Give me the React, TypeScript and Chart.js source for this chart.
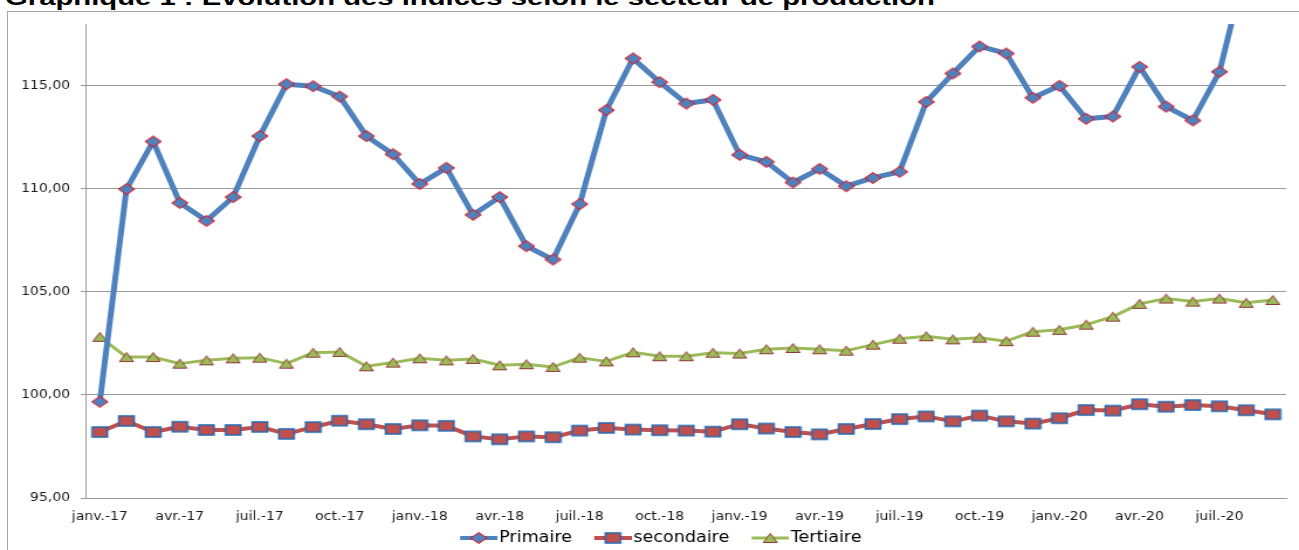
import React, { useEffect, useRef } from 'react';
import { Chart, registerables } from 'chart.js';

Chart.register(...registerables);

const categories = [
  'janv.-17', 'févr.-17', 'mars-17', 'avr.-17', 'mai-17', 'juin-17', 'juil.-17', 'août-17', 'sept.-17', 'oct.-17', 'nov.-17', 'déc.-17',
  'janv.-18', 'févr.-18', 'mars-18', 'avr.-18', 'mai-18', 'juin-18', 'juil.-18', 'août-18', 'sept.-18', 'oct.-18', 'nov.-18', 'déc.-18',
  'janv.-19', 'févr.-19', 'mars-19', 'avr.-19', 'mai-19', 'juin-19', 'juil.-19', 'août-19', 'sept.-19', 'oct.-19', 'nov.-19', 'déc.-19',
  'janv.-20', 'févr.-20', 'mars-20', 'avr.-20', 'mai-20', 'juin-20', 'juil.-20', 'août-20', 'sept.-20',
];

const primaire = [
  99.67, 109.99, 112.3, 109.32, 108.45, 109.6, 112.56, 115.08, 114.98, 114.48, 112.56, 111.68,
  110.24, 111.02, 108.74, 109.6, 107.22, 106.57, 109.26, 113.82, 116.33, 115.18, 114.14, 114.32,
  111.65, 111.31, 110.31, 110.97, 110.13, 110.53, 110.83, 114.22, 115.6, 116.91, 116.57, 114.42,
  115.0, 113.4, 113.51, 115.92, 113.99, 113.32, 115.68, 120.9, 121.6,
];

const secondaire = [
  98.2, 98.74, 98.2, 98.46, 98.3, 98.3, 98.45, 98.11, 98.44, 98.75, 98.58, 98.35,
  98.53, 98.5, 97.99, 97.85, 97.99, 97.95, 98.27, 98.4, 98.32, 98.29, 98.27, 98.22,
  98.58, 98.37, 98.2, 98.09, 98.35, 98.59, 98.83, 98.96, 98.72, 99.0, 98.72, 98.61,
  98.87, 99.27, 99.24, 99.55, 99.43, 99.51, 99.45, 99.26, 99.06,
];

const tertiaire = [
  102.82, 101.84, 101.84, 101.52, 101.68, 101.78, 101.81, 101.52, 102.05, 102.09, 101.39, 101.57,
  101.78, 101.68, 101.75, 101.44, 101.49, 101.36, 101.81, 101.63, 102.07, 101.88, 101.88, 102.05,
  102.01, 102.22, 102.28, 102.22, 102.15, 102.44, 102.73, 102.85, 102.7, 102.78, 102.61, 103.07,
  103.16, 103.41, 103.8, 104.42, 104.68, 104.53, 104.68, 104.47, 104.61,
];

const seriesNames = ['Primaire', 'secondaire', 'Tertiaire'];
const seriesColors = ['#4F81BD', '#C0504D', '#9BBB59'];
const yMin = 95;
const yMax = 118;
const yStep = 5;
const titleText = 'Graphique 1 : Evolution des indices selon le secteur de production';

const SX = 1.17;
const CANVAS_W = Math.round(1299 / SX);
const CANVAS_H = 560;

function makeCanvas(w: number, h: number) {
  const c = document.createElement('canvas');
  c.width = w;
  c.height = h;
  return c;
}

type MarkerKind = 'diamond' | 'square' | 'triangle';

function drawMarker(ctx: CanvasRenderingContext2D, kind: MarkerKind, cx: number, cy: number) {
  ctx.beginPath();
  if (kind === 'diamond') {
    ctx.moveTo(cx - 7, cy);
    ctx.lineTo(cx, cy - 5.5);
    ctx.lineTo(cx + 7, cy);
    ctx.lineTo(cx, cy + 5.5);
    ctx.closePath();
    ctx.fillStyle = '#4F81BD';
    ctx.fill();
    ctx.strokeStyle = '#FF0000';
    ctx.lineWidth = 1;
    ctx.stroke();
  } else if (kind === 'square') {
    ctx.rect(cx - 6.5, cy - 5, 13, 10);
    ctx.fillStyle = '#C0504D';
    ctx.fill();
    ctx.strokeStyle = '#1F69B4';
    ctx.lineWidth = 1.5;
    ctx.stroke();
  } else {
    ctx.moveTo(cx, cy - 4.5);
    ctx.lineTo(cx + 6, cy + 4.5);
    ctx.lineTo(cx - 6, cy + 4.5);
    ctx.closePath();
    ctx.fillStyle = '#9BBB59';
    ctx.fill();
    ctx.strokeStyle = '#953735';
    ctx.lineWidth = 1;
    ctx.stroke();
  }
}

function markerImage(kind: MarkerKind) {
  const c = makeCanvas(16, 14);
  const ctx = c.getContext('2d')!;
  drawMarker(ctx, kind, 8, 7);
  return c;
}

function legendImage(kind: MarkerKind, color: string, lw: number) {
  const W = 49;
  const V = 32;
  const c = makeCanvas(W, 16);
  const ctx = c.getContext('2d')!;
  ctx.beginPath();
  ctx.moveTo(W - V, 8);
  ctx.lineTo(W, 8);
  ctx.strokeStyle = color;
  ctx.lineWidth = lw;
  ctx.stroke();
  drawMarker(ctx, kind, W - V / 2, 8);
  return c;
}

export default function App() {
  const ref = useRef<HTMLCanvasElement>(null);

  useEffect(() => {
    const canvas = ref.current;
    if (!canvas) return;
    const kinds: MarkerKind[] = ['diamond', 'square', 'triangle'];
    const widths = [5, 4, 3];
    const legendWidths = [4, 4, 3];
    const seriesData = [primaire, secondaire, tertiaire];
    const pointImgs = kinds.map((k) => markerImage(k));
    const legendImgs = kinds.map((k, i) => legendImage(k, seriesColors[i], legendWidths[i]));

    const grey = '#999999';
    const chart = new Chart(canvas, {
      type: 'line',
      data: {
        labels: categories,
        datasets: seriesNames.map((name, i) => ({
          label: name,
          data: seriesData[i],
          borderColor: seriesColors[i],
          backgroundColor: seriesColors[i],
          borderWidth: widths[i],
          borderJoinStyle: 'round' as const,
          borderCapStyle: 'round' as const,
          tension: 0,
          pointStyle: pointImgs[i] as any,
          pointRadius: 6,
          pointHoverRadius: 6,
          clip: 0,
          fill: false,
        })),
      },
      options: {
        responsive: false,
        animation: false,
        events: [],
        layout: { padding: { left: 14.8, right: 6.6, top: 24, bottom: 4.5 } },
        scales: {
          x: {
            type: 'category',
            offset: true,
            grid: { display: false },
            border: { display: true, color: grey, width: 1 },
            ticks: {
              autoSkip: false,
              maxRotation: 0,
              minRotation: 0,
              padding: 4,
              color: '#1a1a1a',
              font: { family: 'DejaVu Sans', size: 12 },
              callback: function (this: any, val: any, index: number) {
                return index % 3 === 0 ? this.getLabelForValue(val) : '';
              },
            },
            afterFit: (scale: any) => {
              scale.height = 24.5;
            },
          },
          y: {
            min: yMin,
            max: yMax,
            grid: { color: grey, lineWidth: 1, drawTicks: true, tickLength: 5, tickColor: grey },
            border: { display: true, color: grey, width: 1 },
            ticks: {
              stepSize: yStep,
              padding: 9,
              color: '#1a1a1a',
              font: { family: 'DejaVu Sans', size: 12 },
              callback: (v: any) => Number(v).toFixed(2).replace('.', ','),
            },
            afterBuildTicks: (scale: any) => {
              scale.ticks = scale.ticks.filter((t: any) => t.value % yStep === 0);
            },
            afterFit: (scale: any) => {
              scale.width = 59.1;
            },
          },
        },
        plugins: {
          title: { display: false },
          tooltip: { enabled: false },
          legend: {
            display: true,
            position: 'bottom',
            align: 'center',
            labels: {
              usePointStyle: true,
              pointStyleWidth: 37,
              padding: 8,
              color: '#000',
              font: { family: 'DejaVu Sans', size: 15 },
              generateLabels: () =>
                seriesNames.map((name, i) => ({
                  text: name,
                  fillStyle: seriesColors[i],
                  strokeStyle: seriesColors[i],
                  lineWidth: 0,
                  pointStyle: legendImgs[i] as any,
                  hidden: false,
                  datasetIndex: i,
                  fontColor: '#000',
                })),
            },
          },
        },
      } as any,
    });
    return () => chart.destroy();
  }, []);

  return (
    <div
      style={{
        position: 'fixed',
        left: 0,
        top: 0,
        width: 1299,
        height: 550,
        overflow: 'hidden',
        background: '#fff',
      }}
    >
      <div
        style={{
          position: 'absolute',
          left: 7,
          top: 11,
          width: 1400,
          height: 700,
          border: '1px solid #a6a6a6',
          boxSizing: 'border-box',
        }}
      />
      <div
        style={{
          position: 'absolute',
          left: 5,
          top: -13,
          fontFamily: '"Liberation Sans", Arial, sans-serif',
          fontWeight: 'bold',
          fontSize: 22,
          lineHeight: '22px',
          whiteSpace: 'nowrap',
          color: '#000',
          transform: 'scaleX(1.33)',
          transformOrigin: '0 0',
        }}
      >
        {titleText}
      </div>
      <canvas
        ref={ref}
        width={CANVAS_W}
        height={CANVAS_H}
        style={{ position: 'absolute', left: 0, top: 0, width: 1299, height: CANVAS_H }}
      />
    </div>
  );
}
